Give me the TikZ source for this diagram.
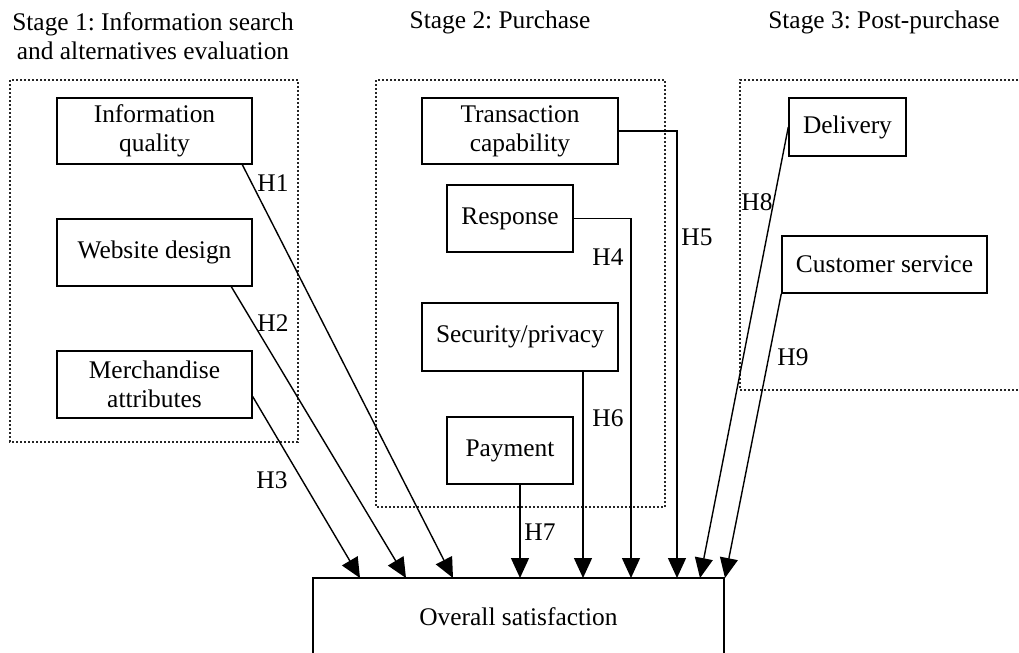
\documentclass[tikz,border=0pt]{standalone}
\usepackage{fontspec}
\setmainfont{Liberation Serif}
\usetikzlibrary{arrows.meta}
\frenchspacing

\begin{document}
\begin{tikzpicture}[x=0.5pt, y=-0.5pt,
factor/.style={rectangle, draw=black, line width=0.7pt, align=center, inner sep=0pt},
outcome/.style={rectangle, draw=black, line width=0.7pt, minimum width=205.5pt, minimum height=39pt},
stage/.style={draw=black!85, dash pattern=on 1pt off 1pt, line width=0.55pt},
title/.style={align=center},
hyp/.style={inner sep=1pt},
link/.style={draw=black, line width=0.7pt, -{Triangle[length=10pt, width=9pt]}},
every node/.style={font=\fontsize{12.7}{14.5}\selectfont},
]
\useasboundingbox (0,0) rectangle (1019,653);

% stage titles
\node[title] (s1) at (153,36) {Stage 1: Information search\\and alternatives evaluation};
\node[title] (s2) at (500,22) {Stage 2: Purchase};
\node[title] (s3) at (884,22) {Stage 3: Post-purchase};

% stage frames
\draw[stage] (10,80) rectangle (298,442);
\draw[stage] (376,80) rectangle (665,507);
\draw[stage] (1030,80) -| (740,390) -- (1030,390);

% stage 1
\node[factor, minimum width=97.5pt, minimum height=33pt] (info) at (154.5,131) {Information\\quality};
\node[factor, minimum width=97.5pt, minimum height=33.5pt] (web) at (154.5,252.5) {Website design};
\node[factor, minimum width=97.5pt, minimum height=33.5pt] (merch) at (154.5,384.5) {Merchandise\\attributes};

% stage 2
\node[factor, minimum width=98pt, minimum height=33pt] (trans) at (520,131) {Transaction\\capability};
\node[factor, minimum width=63pt, minimum height=33.5pt] (resp) at (510,218.5) {Response};
\node[factor, minimum width=98pt, minimum height=34pt] (sec) at (520,337) {Security/privacy};
\node[factor, minimum width=63pt, minimum height=33.5pt] (pay) at (510,450.5) {Payment};

% stage 3
\node[factor, minimum width=58.5pt, minimum height=29pt] (deliv) at (847.5,127) {Delivery};
\node[factor, minimum width=102.5pt, minimum height=28.5pt] (cust) at (884.5,264.5) {Customer service};

% outcome
\node[outcome] (sat) at (518.5,617) {Overall satisfaction};

% arrow ends on the outcome box
\coordinate (t3) at (360,578);
\coordinate (t2) at (406,578);
\coordinate (t1) at (453,578);
\coordinate (t7) at (520,578);
\coordinate (t6) at (583,578);
\coordinate (t4) at (631,578);
\coordinate (t5) at (677,578);
\coordinate (t8) at (700,578);
\coordinate (t9) at (725,578);

\draw[link] (info.-21.6) -- (t1);
\draw[link] (web.-24.5) -- (t2);
\draw[link] (merch.-7.3) -- (t3);
\draw[link] (resp.east) -| (t4);
\draw[link] (trans.east) -| (t5);
\draw[link] (sec.south -| t6) -- (t6);
\draw[link] (pay.south -| t7) -- (t7);
\draw[link] (deliv.west) -- (t8);
\draw[link] (cust.south west) -- (t9);

% hypothesis labels
\node[hyp] (h1) at (273,183) {H1};
\node[hyp] (h2) at (273,323) {H2};
\node[hyp] (h3) at (272,480) {H3};
\node[hyp] (h4) at (608,257) {H4};
\node[hyp] (h5) at (697,237) {H5};
\node[hyp] (h6) at (608,418) {H6};
\node[hyp] (h7) at (540,532) {H7};
\node[hyp] (h8) at (757,202) {H8};
\node[hyp] (h9) at (793,357) {H9};
\end{tikzpicture}
\end{document}
